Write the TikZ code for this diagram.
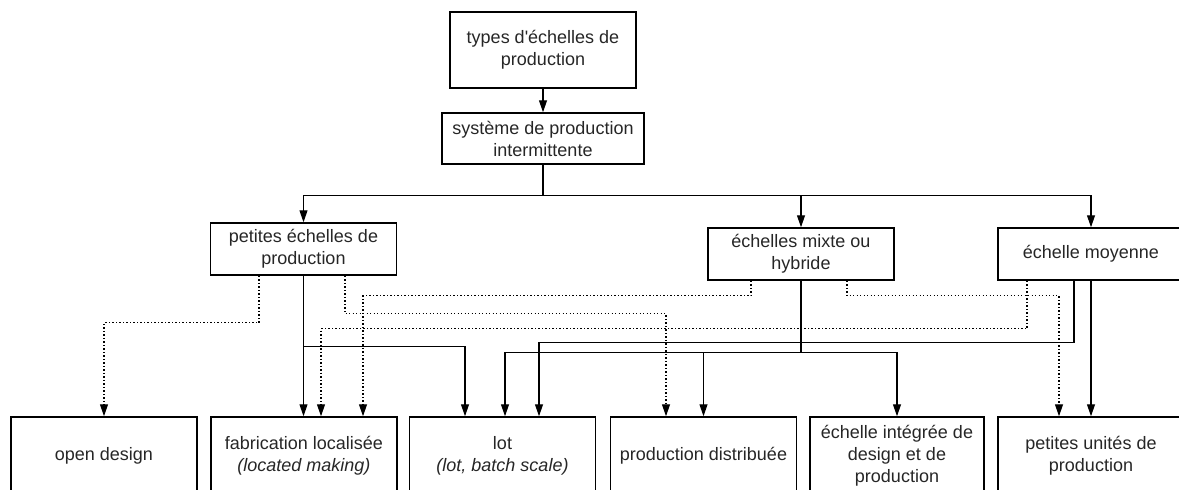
\documentclass[tikz,border=0pt]{standalone}
\usepackage{fontspec}
\setmainfont{Liberation Sans}
\usetikzlibrary{arrows.meta}

\begin{document}
\begin{tikzpicture}[x=1pt,y=-1pt,
	every node/.style={font=\fontsize{18}{22}\selectfont, text=black!85},
	box/.style={draw, line width=1.5pt, minimum width=186pt, minimum height=52pt, align=center, inner sep=0pt},
	leaf/.style={box, minimum height=78pt},
	link/.style={line width=1.2pt, -{Triangle[width=8pt,length=12pt]}},
	hint/.style={link, dash pattern=on 1.3pt off 2.2pt}]
	\useasboundingbox (0,0) rectangle (1179,490);

	\node[box, minimum height=76pt] (types) at (543,50) {types d\textquotesingle échelles de\\production};
	\node[box, minimum width=202pt, minimum height=51pt] (sys) at (543,138.5) {système de production\\intermittente};
	\node[box] (pet) at (303.5,249) {petites échelles de\\production};
	\node[box] (mix) at (801,254) {échelles mixte ou\\hybride};
	\node[box] (moy) at (1091,254) {échelle moyenne};

	\node[leaf] (open) at (104,456) {open design};
	\node[leaf] (fab) at (304,456) {fabrication localisée\\\textit{(located making)}};
	\node[leaf] (lot) at (502.5,456) {lot\\\textit{(lot, batch scale)}};
	\node[leaf] (prod) at (703.5,456) {production distribuée};
	\node[leaf, minimum width=174pt] (int) at (897,456) {échelle intégrée de\\design et de\\production};
	\node[leaf] (pu) at (1091,456) {petites unités de\\production};

	\draw[link] (types.south) -- (sys.north);
	\draw[line width=1.2pt] (sys.south) -- ++(0,31) coordinate (split);
	\draw[link] (split) -| (pet.north);
	\draw[link] (split) -| (mix.north);
	\draw[link] (split) -| (moy.north);

	\draw[link] (pet.south) -- (pet.south |- fab.north);
	\draw[link] (pet.south) -- ++(0,71) -| ([xshift=-37.5pt]lot.north);
	\draw[line width=1.2pt] (mix.south) -- ++(0,72) coordinate (mixsplit);
	\draw[link] (mixsplit) -| ([xshift=2.5pt]lot.north);
	\draw[link] (mixsplit) -| (prod.north);
	\draw[link] (mixsplit) -| (int.north);
	\draw[link] ([xshift=-17pt]moy.south) -- ++(0,62) -| ([xshift=36.5pt]lot.north);
	\draw[link] (moy.south) -- (pu.north);

	\draw[hint] ([xshift=-44.5pt]pet.south) -- ++(0,47) -| (open.north);
	\draw[hint] ([xshift=41.5pt]pet.south) -- ++(0,38) -| ([xshift=-37.5pt]prod.north);
	\draw[hint] ([xshift=-50pt]mix.south) -- ++(0,15) -| ([xshift=59pt]fab.north);
	\draw[hint] ([xshift=46pt]mix.south) -- ++(0,15) -| ([xshift=-32pt]pu.north);
	\draw[hint] ([xshift=-64pt]moy.south) -- ++(0,48) -| ([xshift=17pt]fab.north);
\end{tikzpicture}
\end{document}
